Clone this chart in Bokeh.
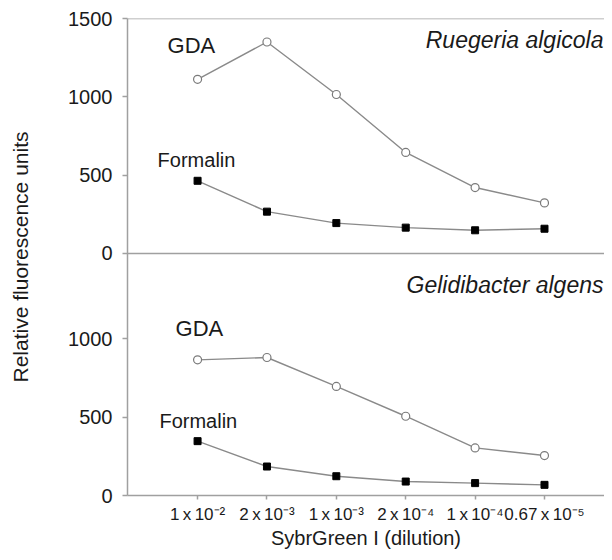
from bokeh.plotting import figure
from bokeh.models import Range1d, FixedTicker, Span, Label
from bokeh.embed import file_html
from bokeh.resources import INLINE

dilutions = ["1\u2009x\u200910\u207b\u00b2", "2\u2009x\u200910\u207b\u00b3",
             "1\u2009x\u200910\u207b\u00b3", "2\u2009x\u200910\u207b\u2074",
             "1\u2009x\u200910\u207b\u2074", "0.67\u2009x\u200910\u207b\u2075"]
ruegeria_gda = [1112, 1350, 1015, 645, 421, 323]
ruegeria_formalin = [464, 267, 194, 165, 148, 158]
gelidibacter_gda = [866, 881, 696, 506, 304, 255]
gelidibacter_formalin = [347, 185, 123, 89, 79, 68]
y_ticks = [0, 500, 1000, 1500]

FONT = "Liberation Sans"
LINE = "#8a8a8a"
AXIS = "#a0a0a0"
TXT = "#1a1a1a"

OFF = 1545  # vertical offset of the upper panel (data units)
xs = list(range(len(dilutions)))

p = figure(width=604, height=552, output_backend="svg", toolbar_location=None,
           x_range=Range1d(-1.01, 5.865), y_range=Range1d(0, OFF + 1500),
           min_border_left=127, min_border_right=0, min_border_top=18,
           min_border_bottom=57)
p.outline_line_color = None
p.grid.visible = False
p.background_fill_color = "white"

# x axis
p.xaxis.ticker = FixedTicker(ticks=xs)
p.xaxis.major_label_overrides = {i: d for i, d in zip(xs, dilutions)}
p.xaxis.major_label_text_font = FONT
p.xaxis.major_label_text_font_size = "17px"
p.xaxis.major_label_text_color = TXT
p.xaxis.major_label_standoff = 5
p.xaxis.major_tick_out = 4
p.xaxis.major_tick_in = 0
p.xaxis.minor_tick_line_color = None
p.xaxis.axis_line_color = AXIS
p.xaxis.axis_line_width = 1.5
p.xaxis.major_tick_line_color = AXIS
p.xaxis.major_tick_line_width = 1.5
p.xaxis.axis_label = "SybrGreen I (dilution)"
p.xaxis.axis_label_text_font = FONT
p.xaxis.axis_label_text_font_size = "20px"
p.xaxis.axis_label_text_font_style = "normal"
p.xaxis.axis_label_text_color = TXT
p.xaxis.axis_label_standoff = 0

# y axis: lower panel 0..1000, upper panel 0..1500
ticks = [t for t in y_ticks if t < 1500] + [t + OFF for t in y_ticks]
labels = {}
for t in y_ticks:
    if t < 1500:
        labels[t] = str(t)
    labels[t + OFF] = str(t)
p.yaxis.ticker = FixedTicker(ticks=ticks)
p.yaxis.major_label_overrides = labels
p.yaxis.major_label_text_font = FONT
p.yaxis.major_label_text_font_size = "20px"
p.yaxis.major_label_text_color = TXT
p.yaxis.major_label_standoff = 10
p.yaxis.major_tick_out = 5
p.yaxis.major_tick_in = 0
p.yaxis.minor_tick_line_color = None
p.yaxis.axis_line_color = AXIS
p.yaxis.axis_line_width = 1.5
p.yaxis.major_tick_line_color = AXIS
p.yaxis.major_tick_line_width = 1.5
p.yaxis.axis_label = "Relative fluorescence units"
p.yaxis.axis_label_text_font = FONT
p.yaxis.axis_label_text_font_size = "21px"
p.yaxis.axis_label_text_font_style = "normal"
p.yaxis.axis_label_text_color = TXT
p.yaxis.axis_label_standoff = 33

# panel frame lines (upper panel baseline and top border)
p.add_layout(Span(location=OFF, dimension="width", line_color=AXIS, line_width=1.5))
p.add_layout(Span(location=OFF + 1500, dimension="width", line_color=AXIS, line_width=1.5))

def series(vals, offset, kind):
    ys = [v + offset for v in vals]
    p.line(xs, ys, line_color=LINE, line_width=1.4)
    if kind == "gda":
        p.scatter(xs, ys, marker="circle", size=8, fill_color="white",
                  line_color="#7a7a7a", line_width=1.2)
    else:
        p.scatter(xs, ys, marker="square", size=7, fill_color="black",
                  line_color="black")

series(ruegeria_gda, OFF, "gda")
series(ruegeria_formalin, OFF, "formalin")
series(gelidibacter_gda, 0, "gda")
series(gelidibacter_formalin, 0, "formalin")

def label(x, y, text, size="21px", style="normal", align="left"):
    p.add_layout(Label(x=x, y=y, text=text, text_font=FONT, text_font_size=size,
                       text_font_style=style, text_color=TXT, text_align=align,
                       text_baseline="middle"))

label(-0.432, OFF + 1325, "GDA", size="22px")
label(-0.576, OFF + 599, "Formalin", size="20px")
label(5.85, OFF + 1365, "Ruegeria algicola", size="23px", style="italic", align="right")
label(-0.317, 1064, "GDA", size="22px")
label(-0.55, 476, "Formalin", size="20px")
label(5.85, 1345, "Gelidibacter algens", size="23px", style="italic", align="right")

open("out.html", "w").write(file_html(p, INLINE))
